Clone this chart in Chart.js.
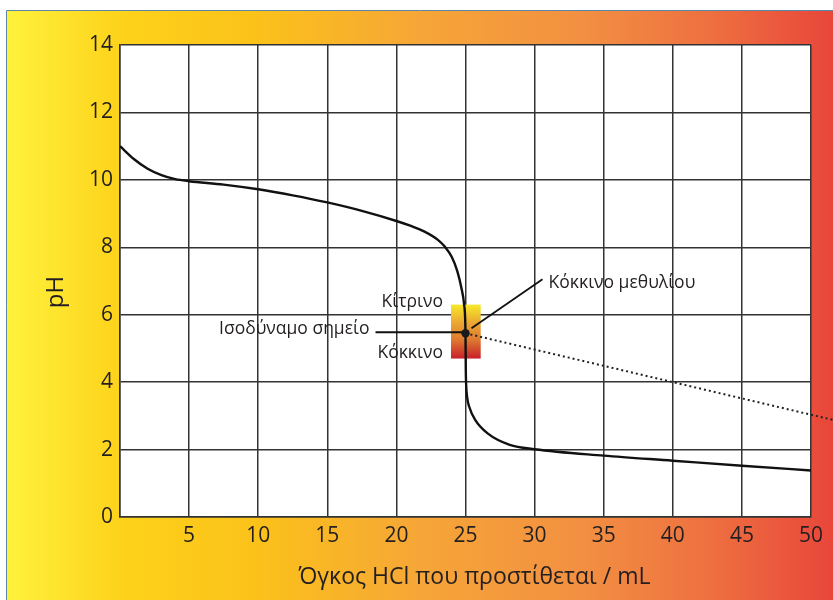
<!DOCTYPE html>
<html><head><meta charset="utf-8">
<script src="https://cdn.jsdelivr.net/npm/chart.js@4/dist/chart.umd.min.js"></script>
<style>html,body{margin:0;padding:0;background:#fff}#wrap{width:833px;height:600px}</style>
</head><body><div id="wrap"><canvas id="c" width="833" height="600"></canvas></div>
<script>
// ---- data ----
const volumeHCl = [0, 1, 2, 3, 4, 5, 7.5, 10, 12.5, 15, 17.5, 20, 21, 22, 23, 23.5, 24, 24.4, 24.7, 24.9, 25, 25.02, 25.05, 25.12, 25.27, 25.7, 26.6, 28.2, 30, 35, 40, 45, 50];
const pHValues  = [11.0, 10.62, 10.33, 10.14, 10.02, 9.96, 9.86, 9.72, 9.54, 9.33, 9.08, 8.78, 8.64, 8.47, 8.22, 8.02, 7.72, 7.3, 6.8, 6.3, 5.45, 4.4, 3.9, 3.55, 3.27, 2.88, 2.48, 2.14, 2.01, 1.82, 1.67, 1.52, 1.38];
const extrapX = [25, 51.7];
const extrapPH = [5.45, 2.87];
const equivalencePoint = {x: 25, y: 5.45};
const indicatorVolume = [23.95, 26.1];
const indicatorPH = [4.7, 6.3];
const labelYellow = 'Κίτρινο';
const labelRed = 'Κόκκινο';
const labelEquiv = 'Ισοδύναμο σημείο';
const labelIndicator = 'Κόκκινο μεθυλίου';
const xTitle = 'Όγκος HCl που προστίθεται / mL';
const yTitle = 'pH';

const FONT = "'Open Sans', 'Noto Sans', sans-serif";
const TXT = '#231f20';

const bgPlugin = {
  id: 'bg',
  beforeDraw(chart) {
    const ctx = chart.ctx;
    ctx.save();
    const g = ctx.createLinearGradient(7, 0, 833, 0);
    g.addColorStop(0, '#fff23c');
    g.addColorStop(0.14, '#fdd21a');
    g.addColorStop(0.3, '#fbc21a');
    g.addColorStop(0.5, '#f6a637');
    g.addColorStop(0.7, '#f28f42');
    g.addColorStop(0.85, '#ee7040');
    g.addColorStop(1, '#e8463a');
    ctx.fillStyle = g;
    ctx.fillRect(7, 11, 826, 589);
    ctx.strokeStyle = '#5a86a8';
    ctx.lineWidth = 1;
    ctx.beginPath();
    ctx.moveTo(6.5, 600); ctx.lineTo(6.5, 10.5); ctx.lineTo(833, 10.5);
    ctx.stroke();
    const a = chart.chartArea;
    ctx.fillStyle = '#ffffff';
    ctx.fillRect(a.left, a.top, a.right - a.left, a.bottom - a.top);
    ctx.restore();
  },
  beforeDatasetsDraw(chart) {
    const ctx = chart.ctx, xs = chart.scales.x, ys = chart.scales.y;
    const x0 = xs.getPixelForValue(indicatorVolume[0]);
    const x1 = xs.getPixelForValue(indicatorVolume[1]);
    const yTop = ys.getPixelForValue(indicatorPH[1]);
    const yBot = ys.getPixelForValue(indicatorPH[0]);
    ctx.save();
    const g = ctx.createLinearGradient(0, yTop, 0, yBot);
    g.addColorStop(0, '#f7e92a');
    g.addColorStop(0.35, '#eaa532');
    g.addColorStop(0.65, '#df7a30');
    g.addColorStop(1, '#c8202a');
    ctx.fillStyle = g;
    ctx.fillRect(x0, yTop, x1 - x0, yBot - yTop);
    ctx.restore();
  },
  afterDatasetsDraw(chart) {
    const ctx = chart.ctx, xs = chart.scales.x, ys = chart.scales.y;
    const px = xs.getPixelForValue(equivalencePoint.x);
    const py = ys.getPixelForValue(equivalencePoint.y);
    const x0 = xs.getPixelForValue(indicatorVolume[0]);
    const yTop = ys.getPixelForValue(indicatorPH[1]);
    const yBot = ys.getPixelForValue(indicatorPH[0]);
    const a = chart.chartArea;
    ctx.save();
    ctx.strokeStyle = '#111';
    ctx.lineWidth = 1.8;
    ctx.beginPath();
    ctx.moveTo(px - 90, py - 1); ctx.lineTo(px, py - 1);
    ctx.stroke();
    ctx.beginPath();
    ctx.moveTo(px + 6, py - 5); ctx.lineTo(px + 77, py - 54);
    ctx.stroke();
    ctx.fillStyle = '#1a1a1a';
    ctx.beginPath();
    ctx.arc(px, py, 4.2, 0, Math.PI * 2);
    ctx.fill();
    ctx.fillStyle = TXT;
    ctx.font = '17.5px ' + FONT;
    ctx.textAlign = 'right';
    ctx.textBaseline = 'alphabetic';
    ctx.fillText(labelYellow, x0 - 8, yTop + 2);
    ctx.fillText(labelRed, x0 - 8, yBot - 1);
    ctx.fillText(labelEquiv, px - 96, py + 1);
    ctx.textAlign = 'left';
    ctx.fillText(labelIndicator, px + 83, py - 45);
    // axis titles
    ctx.font = '23px ' + FONT;
    ctx.textAlign = 'center';
    ctx.textBaseline = 'middle';
    ctx.fillText(xTitle, (a.left + a.right) / 2 + 9, 577);
    ctx.translate(56, (a.top + a.bottom) / 2 + 11);
    ctx.rotate(-Math.PI / 2);
    ctx.font = '24px ' + FONT;
    ctx.fillText(yTitle, 0, 0);
    ctx.restore();
  }
};

new Chart(document.getElementById('c'), {
  type: 'line',
  data: {
    datasets: [
      {
        data: volumeHCl.map((v, i) => ({x: v, y: pHValues[i]})),
        borderColor: '#111',
        borderWidth: 2.4,
        pointRadius: 0,
        cubicInterpolationMode: 'monotone',
        fill: false
      },
      {
        data: extrapX.map((v, i) => ({x: v, y: extrapPH[i]})),
        borderColor: '#222',
        borderWidth: 2,
        borderDash: [2, 3],
        pointRadius: 0,
        clip: false,
        fill: false
      }
    ]
  },
  options: {
    responsive: false,
    animation: false,
    devicePixelRatio: 1,
    layout: {padding: {top: 45, right: 22, left: 0, bottom: 0}},
    plugins: {legend: {display: false}, tooltip: {enabled: false}},
    scales: {
      x: {
        type: 'linear', min: 0, max: 50,
        afterFit(s) { s.height = 83; },
        border: {display: true, color: '#333', width: 1.5},
        grid: {color: '#333', lineWidth: 1.5, drawTicks: false},
        ticks: {
          stepSize: 5, padding: 6, color: TXT,
          font: {family: FONT, size: 21},
          callback: v => v === 0 ? '' : v
        },
        title: {display: false, text: xTitle}
      },
      y: {
        min: 0, max: 14,
        afterFit(s) { s.width = 120; },
        border: {display: true, color: '#333', width: 1.5},
        grid: {color: '#333', lineWidth: 1.5, drawTicks: false},
        ticks: {stepSize: 2, padding: 7, color: TXT, font: {family: FONT, size: 21}},
        title: {display: false, text: yTitle}
      }
    }
  },
  plugins: [bgPlugin]
});
</script>
</body></html>
